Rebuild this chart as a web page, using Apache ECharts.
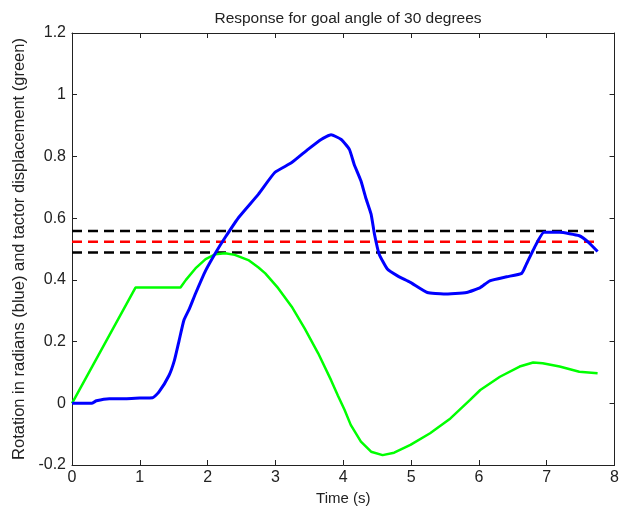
<!DOCTYPE html>
<html>
<head>
<meta charset="utf-8">
<script src="https://cdn.jsdelivr.net/npm/echarts@6/dist/echarts.min.js"></script>
<style>html,body{margin:0;padding:0;background:#fff;}#c{width:622px;height:514px;}</style>
</head>
<body>
<div id="c"></div>
<script>
const titleText = 'Response for goal angle of 30 degrees';
const xName = 'Time (s)';
const yName = 'Rotation in radians (blue) and tactor displacement (green)';

const blueTime = [0, 0.29, 0.36, 0.55, 0.79, 1.0, 1.19, 1.28, 1.43, 1.51, 1.58, 1.65, 1.73, 1.82, 1.97, 2.12, 2.26, 2.46, 2.75, 2.99, 3.24, 3.48, 3.68, 3.82, 3.97, 4.09, 4.16, 4.26, 4.33, 4.41, 4.46, 4.53, 4.65, 4.80, 4.99, 5.24, 5.48, 5.82, 6.02, 6.16, 6.41, 6.63, 6.70, 6.82, 6.96, 7.19, 7.48, 7.62, 7.75];
const blueVal  = [0, 0.0, 0.008, 0.015, 0.015, 0.017, 0.018, 0.036, 0.09, 0.139, 0.204, 0.269, 0.306, 0.355, 0.43, 0.489, 0.538, 0.603, 0.678, 0.748, 0.78, 0.823, 0.856, 0.870, 0.855, 0.823, 0.775, 0.721, 0.667, 0.613, 0.548, 0.483, 0.435, 0.413, 0.392, 0.359, 0.354, 0.359, 0.375, 0.397, 0.41, 0.421, 0.451, 0.505, 0.554, 0.554, 0.543, 0.521, 0.492];

const greenTime = [0, 0.936, 1.60, 1.68, 1.82, 1.97, 2.11, 2.26, 2.40, 2.60, 2.75, 2.85, 3.04, 3.24, 3.43, 3.63, 3.82, 3.92, 4.02, 4.11, 4.26, 4.41, 4.58, 4.75, 4.99, 5.28, 5.58, 5.87, 6.02, 6.31, 6.60, 6.80, 6.94, 7.19, 7.48, 7.75];
const greenVal  = [0, 0.375, 0.375, 0.40, 0.437, 0.467, 0.483, 0.486, 0.481, 0.464, 0.440, 0.421, 0.373, 0.313, 0.243, 0.162, 0.075, 0.025, -0.022, -0.07, -0.124, -0.157, -0.168, -0.16, -0.135, -0.097, -0.049, 0.011, 0.043, 0.086, 0.119, 0.132, 0.13, 0.119, 0.102, 0.097];

const goalStart = 0, goalEnd = 7.75;
const goalValue = 0.5236;
const upperBand = 0.5585;
const lowerBand = 0.4887;

const xTicks = [0, 1, 2, 3, 4, 5, 6, 7, 8];
const yTicks = [-0.2, 0, 0.2, 0.4, 0.6, 0.8, 1, 1.2];

function pairs(t, v) { return t.map((x, i) => [x, v[i]]); }
function hline(v) { return [[goalStart, v], [goalEnd, v]]; }

const chart = echarts.init(document.getElementById('c'), null, {renderer: 'canvas'});
const FONT = 'Liberation Sans, Arial, sans-serif';
const labelFont = {color: '#222', fontFamily: FONT, fontSize: 16};
const axisCommon = {
  axisLine: {show: true, onZero: false, lineStyle: {color: '#222', width: 1}},
  axisTick: {show: true, inside: true, length: 5, lineStyle: {color: '#222'}},
  splitLine: {show: false}
};
chart.setOption({
  animation: false,
  backgroundColor: '#fff',
  title: {
    text: titleText, left: 343, top: 6, textAlign: 'center',
    textStyle: {fontFamily: FONT, fontSize: 15.5, fontWeight: 'normal', color: '#222'}
  },
  grid: {left: 72, right: 3, top: 33, bottom: 49, containLabel: false},
  xAxis: [
    Object.assign({
      type: 'value', min: xTicks[0], max: xTicks[xTicks.length - 1], interval: 1,
      name: xName, nameLocation: 'middle', nameGap: 26,
      nameTextStyle: {fontFamily: FONT, fontSize: 15, color: '#222'},
      axisLabel: Object.assign({margin: 5}, labelFont)
    }, axisCommon),
    Object.assign({
      type: 'value', position: 'top', min: xTicks[0], max: xTicks[xTicks.length - 1], interval: 1,
      axisLabel: {show: false}
    }, axisCommon)
  ],
  yAxis: [
    Object.assign({
      type: 'value', min: yTicks[0], max: yTicks[yTicks.length - 1], interval: 0.2,
      name: yName, nameLocation: 'middle', nameGap: 44, nameRotate: 90,
      nameTextStyle: {fontFamily: FONT, fontSize: 16.5, color: '#222'},
      axisLabel: Object.assign({margin: 6, formatter: v => String(Math.round(v * 10) / 10)}, labelFont)
    }, axisCommon),
    Object.assign({
      type: 'value', position: 'right', min: yTicks[0], max: yTicks[yTicks.length - 1], interval: 0.2,
      axisLabel: {show: false}
    }, axisCommon)
  ],
  series: [
    {type: 'line', data: hline(upperBand), showSymbol: false, lineStyle: {color: '#000', width: 2.5, type: [10, 6]}},
    {type: 'line', data: hline(goalValue), showSymbol: false, lineStyle: {color: '#ff0000', width: 2.5, type: [10, 6]}},
    {type: 'line', data: hline(lowerBand), showSymbol: false, lineStyle: {color: '#000', width: 2.5, type: [10, 6]}},
    {type: 'line', data: pairs(greenTime, greenVal), showSymbol: false, lineStyle: {color: '#00ff00', width: 2.5}},
    {type: 'line', data: pairs(blueTime, blueVal), showSymbol: false, smooth: 0.15, lineStyle: {color: '#0000ff', width: 3}}
  ]
});
</script>
</body>
</html>
